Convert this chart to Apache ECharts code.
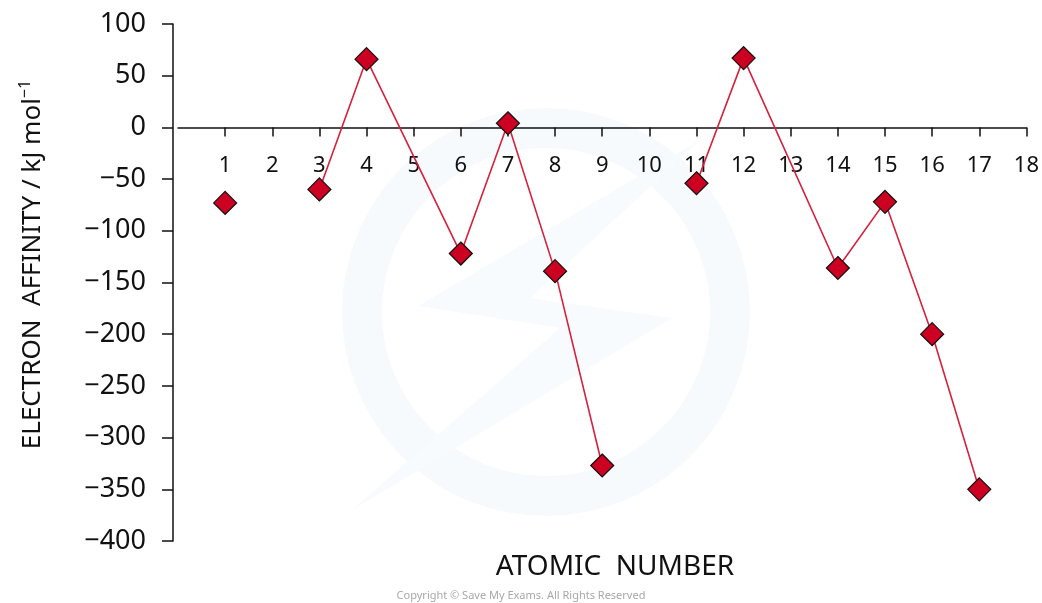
<!DOCTYPE html>
<html>
<head>
<meta charset="utf-8">
<script src="https://cdn.jsdelivr.net/npm/echarts@6/dist/echarts.min.js"></script>
<style>
  html, body { margin: 0; padding: 0; background: #fff; }
  #chart { width: 1042px; height: 603px; }
</style>
</head>
<body>
<div id="chart"></div>
<script>
// atomic numbers on the x axis
var xTicks = [1, 2, 3, 4, 5, 6, 7, 8, 9, 10, 11, 12, 13, 14, 15, 16, 17, 18];
// hydrogen stands alone
var loneAtom = [1];
var loneValue = [-73];
// period 2 run (Li..F, no marker at 5)
var run1Atoms = [3, 4, 6, 7, 8, 9];
var run1Values = [-60, 66, -122, 4, -139, -327];
// period 3 run (Na..Cl, no marker at 13)
var run2Atoms = [11, 12, 14, 15, 16, 17];
var run2Values = [-54, 67, -136, -72, -200, -350];

var font = 'Noto Sans';
var lineRed = '#d6203c';
var markRed = '#cc0020';

function pairs(xs, ys) {
  var out = [];
  for (var i = 0; i < xs.length; i++) out.push([xs[i], ys[i]]);
  return out;
}

// grid runs from y=24 to y=541, the x axis sits on the zero line
var gridTop = 24, gridBottom = 62;
var zeroY = gridTop + (100 / 500) * (603 - gridBottom - gridTop);
var xOffset = -((603 - gridBottom) - zeroY);

var myChart = echarts.init(document.getElementById('chart'));
var option = {
  animation: false,
  backgroundColor: '#fff',
  grid: { left: 178, right: 14, top: gridTop, bottom: gridBottom },
  title: {
    text: 'ATOMIC  NUMBER',
    left: 610, top: 548,
    textAlign: 'center',
    textStyle: { fontFamily: font, fontSize: 28, fontWeight: 'normal', color: '#111' }
  },
  graphic: [
    {
      type: 'circle', z: -1, silent: true,
      shape: { cx: 546, cy: 312, r: 184 },
      style: { fill: 'none', stroke: '#f7fafd', lineWidth: 40 }
    },
    {
      type: 'polygon', z: -1, silent: true,
      shape: { points: [[700, 140], [418, 306], [560, 328], [352, 510], [672, 318], [530, 298]] },
      style: { fill: '#f8fbfd' }
    },
    {
      type: 'text', left: 'center', top: 590,
      style: { text: 'Copyright © Save My Exams. All Rights Reserved', fill: '#a8a8a8', font: '11px "Liberation Sans Narrow", "Noto Sans"' }
    }
  ],
  xAxis: {
    type: 'value',
    min: 0, max: 18, interval: 1,
    offset: xOffset,
    axisLine: { onZero: false, lineStyle: { color: '#111', width: 1.5 } },
    axisTick: { show: true, inside: false, length: 9, customValues: xTicks, lineStyle: { color: '#111', width: 1.5 } },
    axisLabel: { customValues: xTicks, margin: 27, fontFamily: font, fontSize: 22, color: '#111' },
    splitLine: { show: false }
  },
  yAxis: {
    type: 'value',
    min: -400, max: 100, interval: 50,
    offset: 5,
    name: '{n|ELECTRON  AFFINITY / kJ mol}{s|−1}',
    nameLocation: 'middle',
    nameGap: 124,
    nameRotate: 90,
    nameTextStyle: {
      padding: [0, 0, 0, 36],
      rich: {
        n: { fontFamily: font, fontSize: 26, color: '#111' },
        s: { fontFamily: font, fontSize: 16, color: '#111', verticalAlign: 'top', padding: [0, 0, 16, 0] }
      }
    },
    axisLine: { show: true, onZero: false, lineStyle: { color: '#111', width: 1.5 } },
    axisTick: { show: true, length: 11, lineStyle: { color: '#111', width: 1.5 } },
    axisLabel: {
      margin: 27, fontFamily: font, fontSize: 27, color: '#111',
      formatter: function (v) { return String(v).replace('-', '−'); }
    },
    splitLine: { show: false }
  },
  series: [
    {
      type: 'line',
      data: pairs(run1Atoms, run1Values),
      lineStyle: { color: lineRed, width: 1.6 },
      symbol: 'diamond', symbolSize: 23,
      itemStyle: { color: markRed, borderColor: '#111', borderWidth: 1.2 },
      z: 3
    },
    {
      type: 'line',
      data: pairs(run2Atoms, run2Values),
      lineStyle: { color: lineRed, width: 1.6 },
      symbol: 'diamond', symbolSize: 23,
      itemStyle: { color: markRed, borderColor: '#111', borderWidth: 1.2 },
      z: 3
    },
    {
      type: 'scatter',
      data: pairs(loneAtom, loneValue),
      symbol: 'diamond', symbolSize: 23,
      itemStyle: { color: markRed, borderColor: '#111', borderWidth: 1.2, opacity: 1 },
      z: 3
    }
  ]
};
myChart.setOption(option);
</script>
</body>
</html>
